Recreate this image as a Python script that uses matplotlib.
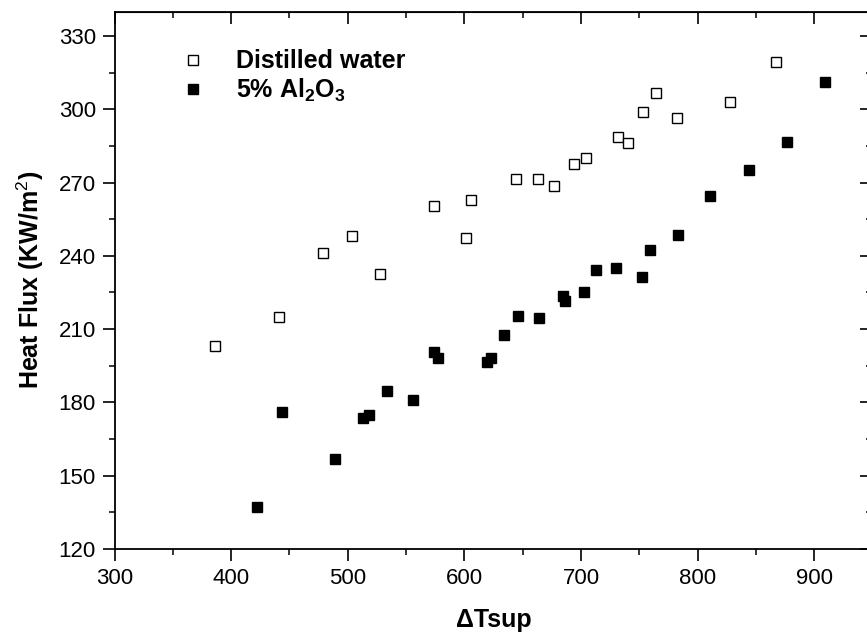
import matplotlib
matplotlib.use('Agg')
import matplotlib.pyplot as plt
from matplotlib.ticker import MultipleLocator

plt.rcParams['font.family'] = ['Liberation Sans', 'DejaVu Sans']
plt.rcParams['mathtext.fontset'] = 'custom'
plt.rcParams['mathtext.rm'] = 'Liberation Sans'
plt.rcParams['mathtext.bf'] = 'Liberation Sans:bold'

# Distilled water: superheat vs heat flux
dt_water = [386, 441, 479, 504, 528, 574, 601, 606, 644, 663, 677, 694,
            704, 732, 740, 753, 764, 782, 828, 867]
q_water = [203, 215, 241, 248, 232.5, 260.5, 247.5, 263, 271.5, 271.5, 268.5, 277.5,
           280, 288.5, 286, 299, 306.5, 296.5, 303, 319.5]

# 5% Al2O3 nanofluid
dt_al2o3 = [422, 444, 489, 513, 518, 534, 556, 574, 577, 619, 623, 634,
            646, 664, 685, 686, 703, 713, 730, 752, 759, 783, 811, 844, 877, 909]
q_al2o3 = [137, 176, 157, 173.5, 175, 184.5, 181, 200.5, 198, 196.5, 198, 207.5,
           215.5, 214.5, 223.5, 221.5, 225, 234, 235, 231.5, 242.5, 248.5, 264.5, 275, 286.5, 311]

fig = plt.figure(figsize=(8.67, 6.32), dpi=100)
ax = fig.add_axes([0.1321, 0.1313, 0.8742, 0.8505])

ax.plot(dt_water, q_water, 's', ms=7.5, mfc='white', mec='black', mew=1.0,
        label='Distilled water')
ax.plot(dt_al2o3, q_al2o3, 's', ms=7.5, mfc='black', mec='black', mew=1.0,
        label=r'5% Al$_\mathbf{2}$O$_\mathbf{3}$')

ax.set_xlim(300, 950)
ax.set_ylim(120, 340)
ax.xaxis.set_major_locator(MultipleLocator(100))
ax.xaxis.set_minor_locator(MultipleLocator(50))
ax.yaxis.set_major_locator(MultipleLocator(30))
ax.yaxis.set_minor_locator(MultipleLocator(15))

ax.tick_params(axis='both', which='major', labelsize=16, length=8.5, width=1.2,
               direction='out', pad=5)
ax.tick_params(axis='both', which='minor', length=4, width=1.1, direction='out')
for spine in ax.spines.values():
    spine.set_linewidth(1.3)

# top and right edges carry inward ticks without labels
top = ax.secondary_xaxis('top')
top.xaxis.set_major_locator(MultipleLocator(100))
top.xaxis.set_minor_locator(MultipleLocator(50))
top.tick_params(which='major', direction='in', length=8.5, width=1.2, labeltop=False)
top.tick_params(which='minor', direction='in', length=4, width=1.1)
right = ax.secondary_yaxis('right')
right.yaxis.set_major_locator(MultipleLocator(30))
right.yaxis.set_minor_locator(MultipleLocator(15))
right.tick_params(which='major', direction='in', length=8.5, width=1.2, labelright=False)
right.tick_params(which='minor', direction='in', length=4, width=1.1)

ax.set_xlabel('ΔTsup', fontsize=18, fontweight='bold', labelpad=14)
ax.set_ylabel(r'Heat Flux (KW/m$^2$)', fontsize=18, fontweight='bold', labelpad=9)

leg = ax.legend(loc='upper left', bbox_to_anchor=(0.064, 0.962), frameon=False,
                prop={'size': 18, 'weight': 'bold'}, handlelength=1.0,
                handletextpad=1.2, labelspacing=0.15, borderpad=0.2)

fig.savefig('out.png', dpi=100)
